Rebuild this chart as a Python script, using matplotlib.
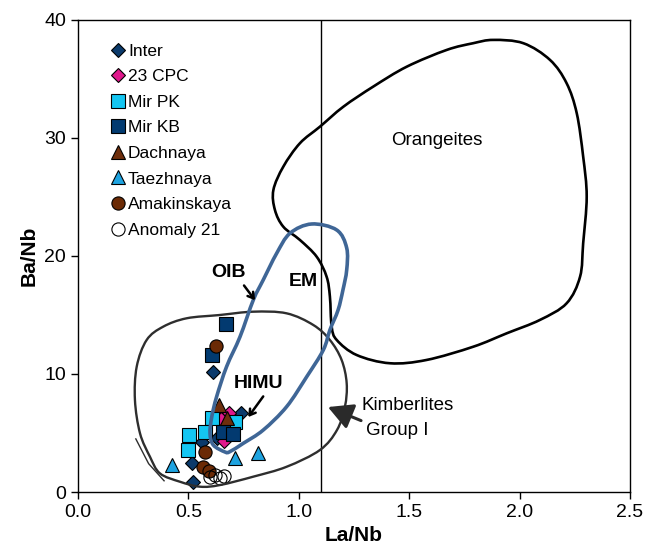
import numpy as np
import matplotlib
matplotlib.use("Agg")
import matplotlib.pyplot as plt
from matplotlib.path import Path
from matplotlib.patches import PathPatch, FancyArrowPatch

plt.rcParams['font.family'] = ['Liberation Sans', 'DejaVu Sans']

# --- sample data (La/Nb, Ba/Nb) ---
inter_x = [0.613, 0.738, 0.560, 0.515, 0.519, 0.630]
inter_y = [10.2, 6.7, 4.2, 2.5, 0.85, 4.6]

cpc_x = [0.685, 0.700, 0.660, 0.650]
cpc_y = [6.7, 5.8, 4.3, 6.2]

mirpk_x = [0.605, 0.575, 0.504, 0.500, 0.711]
mirpk_y = [6.3, 5.1, 4.85, 3.55, 5.9]

mirkb_x = [0.669, 0.605, 0.658, 0.703]
mirkb_y = [14.2, 11.6, 5.1, 4.95]

dach_x = [0.640, 0.673]
dach_y = [7.4, 6.3]

taez_x = [0.424, 0.711, 0.817]
taez_y = [2.3, 2.85, 3.3]

amak_x = [0.625, 0.575, 0.568, 0.595]
amak_y = [12.4, 3.35, 2.1, 1.75]

anom_x = [0.600, 0.620, 0.645, 0.660]
anom_y = [1.25, 1.45, 1.2, 1.35]

# --- field outlines ---
orange_x = [1.881, 2.017, 2.138, 2.213, 2.259, 2.288, 2.304, 2.288, 2.274, 2.213,
            2.092, 1.942, 1.790, 1.579, 1.413, 1.262, 1.172, 1.149, 1.141, 1.126,
            1.081, 1.005, 0.930, 0.892, 0.885, 0.930, 1.005, 1.096, 1.202, 1.337,
            1.489, 1.670, 1.790]
orange_y = [38.31, 38.03, 36.61, 34.64, 32.09, 28.42, 25.03, 21.08, 18.25, 15.99,
            14.58, 13.45, 12.31, 11.19, 10.91, 11.61, 12.88, 14.01, 16.55, 18.25,
            19.94, 21.36, 22.48, 23.90, 25.59, 27.57, 29.55, 30.96, 32.65, 34.35,
            36.04, 37.46, 38.03]

oib_x = [0.666, 0.613, 0.598, 0.606, 0.628, 0.673, 0.734, 0.794, 0.839, 0.900,
         0.960, 1.058, 1.172, 1.217, 1.217, 1.200, 1.178, 1.141, 1.111, 1.036,
         0.945, 0.839, 0.749, 0.688]
oib_y = [3.39, 3.98, 4.97, 6.38, 8.08, 10.62, 13.16, 16.27, 17.97, 20.23,
         21.92, 22.71, 22.20, 20.68, 18.81, 17.12, 15.42, 13.73, 12.03, 9.77,
         7.23, 5.25, 4.13, 3.42]

kimb_x = [0.643, 0.794, 0.945, 1.066, 1.141, 1.194, 1.217, 1.209, 1.173, 1.096,
          0.945, 0.794, 0.643, 0.553, 0.462, 0.371, 0.326, 0.281, 0.258, 0.266,
          0.311, 0.386, 0.492]
kimb_y = [15.0, 15.28, 15.14, 14.15, 12.88, 11.19, 9.21, 7.23, 5.25, 3.56,
          2.14, 1.30, 0.59, 0.45, 0.87, 1.58, 2.99, 4.97, 7.80, 10.62,
          12.88, 14.01, 14.72]
kimb_tail_x = [0.262, 0.320, 0.390]
kimb_tail_y = [4.5, 2.4, 0.95]


def closed_curve(ax, xs, ys):
    # smooth closed outline through the traced points (catmull-rom as cubic beziers),
    # built in pixel space so the curvature is not distorted by the axis aspect
    pts = ax.transData.transform(np.column_stack([xs, ys]))
    n = len(pts)
    verts = [pts[0]]
    codes = [Path.MOVETO]
    for i in range(n):
        p0, p1, p2, p3 = pts[i - 1], pts[i], pts[(i + 1) % n], pts[(i + 2) % n]
        verts += [p1 + (p2 - p0) / 6, p2 - (p3 - p1) / 6, p2]
        codes += [Path.CURVE4] * 3
    verts = ax.transData.inverted().transform(np.array(verts))
    return Path(verts, codes)


fig = plt.figure(figsize=(6.46, 5.56), dpi=100)
ax = fig.add_axes([0.1207, 0.1151, 0.8545, 0.849])
ax.set_xlim(0, 2.5)
ax.set_ylim(0, 40)

ax.plot(inter_x, inter_y, 'D', ms=6.8, mfc='#0b3a6b', mec='black', mew=0.8, label='Inter', zorder=3)
ax.plot(cpc_x, cpc_y, 'D', ms=6.8, mfc='#e0188c', mec='black', mew=0.8, label='23 CPC', zorder=3)
ax.plot(mirpk_x, mirpk_y, 's', ms=10, mfc='#14c6f2', mec='black', mew=0.8, label='Mir PK', zorder=3)
ax.plot(mirkb_x, mirkb_y, 's', ms=10, mfc='#023a70', mec='black', mew=0.8, label='Mir KB', zorder=3)
ax.plot(dach_x, dach_y, '^', ms=10, mfc='#6e2e0c', mec='black', mew=0.8, label='Dachnaya', zorder=3)
ax.plot(taez_x, taez_y, '^', ms=10, mfc='#1ea3e0', mec='black', mew=0.8, label='Taezhnaya', zorder=3)
ax.plot(amak_x, amak_y, 'o', ms=9.5, mfc='#6b2a05', mec='black', mew=0.8, label='Amakinskaya', zorder=3)
ax.plot(anom_x, anom_y, 'o', ms=9.5, mfc='none', mec='black', mew=0.8, label='Anomaly 21', zorder=3)

ax.add_patch(PathPatch(closed_curve(ax, orange_x, orange_y), fc='none', ec='black', lw=1.9, zorder=4))
ax.add_patch(PathPatch(closed_curve(ax, kimb_x, kimb_y), fc='none', ec='#2e2e2e', lw=1.7, zorder=4))
ax.plot(kimb_tail_x, kimb_tail_y, color='#2e2e2e', lw=1.0, zorder=4)
ax.add_patch(PathPatch(closed_curve(ax, oib_x, oib_y), fc='none', ec='#3f6696', lw=2.6, zorder=5))

ax.axvline(1.1, color='black', lw=1.0, zorder=2)

# labels for the fields
ax.text(1.624, 29.8, 'Orangeites', fontsize=13.5, ha='center', va='center')
ax.text(0.68, 18.6, 'OIB', fontsize=14, fontweight='bold', ha='center', va='center')
ax.text(1.02, 17.8, 'EM', fontsize=14, fontweight='bold', ha='center', va='center')
ax.text(0.817, 9.2, 'HIMU', fontsize=14, fontweight='bold', ha='center', va='center')
ax.text(1.282, 7.35, 'Kimberlites', fontsize=13.5, ha='left', va='center')
ax.text(1.305, 5.25, 'Group I', fontsize=13.5, ha='left', va='center')

ax.add_patch(FancyArrowPatch((0.752, 17.5), (0.802, 16.25), arrowstyle='->,head_length=4,head_width=2.5',
                             color='black', lw=1.8, shrinkA=0, shrinkB=0, zorder=6))
ax.add_patch(FancyArrowPatch((0.839, 8.1), (0.771, 6.35), arrowstyle='->,head_length=4,head_width=2.5',
                             color='black', lw=1.8, shrinkA=0, shrinkB=0, zorder=6))
ax.add_patch(FancyArrowPatch((1.282, 6.05), (1.132, 7.2), arrowstyle='-|>,head_length=15,head_width=8',
                             color='#2a2a2a', lw=2.2, shrinkA=0, shrinkB=0, zorder=6))

ax.set_xticks([0, 0.5, 1.0, 1.5, 2.0, 2.5])
ax.set_xticklabels(['0.0', '0.5', '1.0', '1.5', '2.0', '2.5'])
ax.set_yticks([0, 10, 20, 30, 40])
ax.tick_params(labelsize=14, direction='out', length=5, width=1)
for sp in ax.spines.values():
    sp.set_linewidth(1.0)
ax.set_xlabel('La/Nb', fontsize=15, fontweight='bold')
ax.set_ylabel('Ba/Nb', fontsize=15, fontweight='bold')

ax.legend(loc='upper left', bbox_to_anchor=(0.0607, 0.95), frameon=False, fontsize=12.5,
          handlelength=0.8, handletextpad=0.15, labelspacing=0.6, borderpad=0, borderaxespad=0)

fig.savefig('out.png', dpi=100)
